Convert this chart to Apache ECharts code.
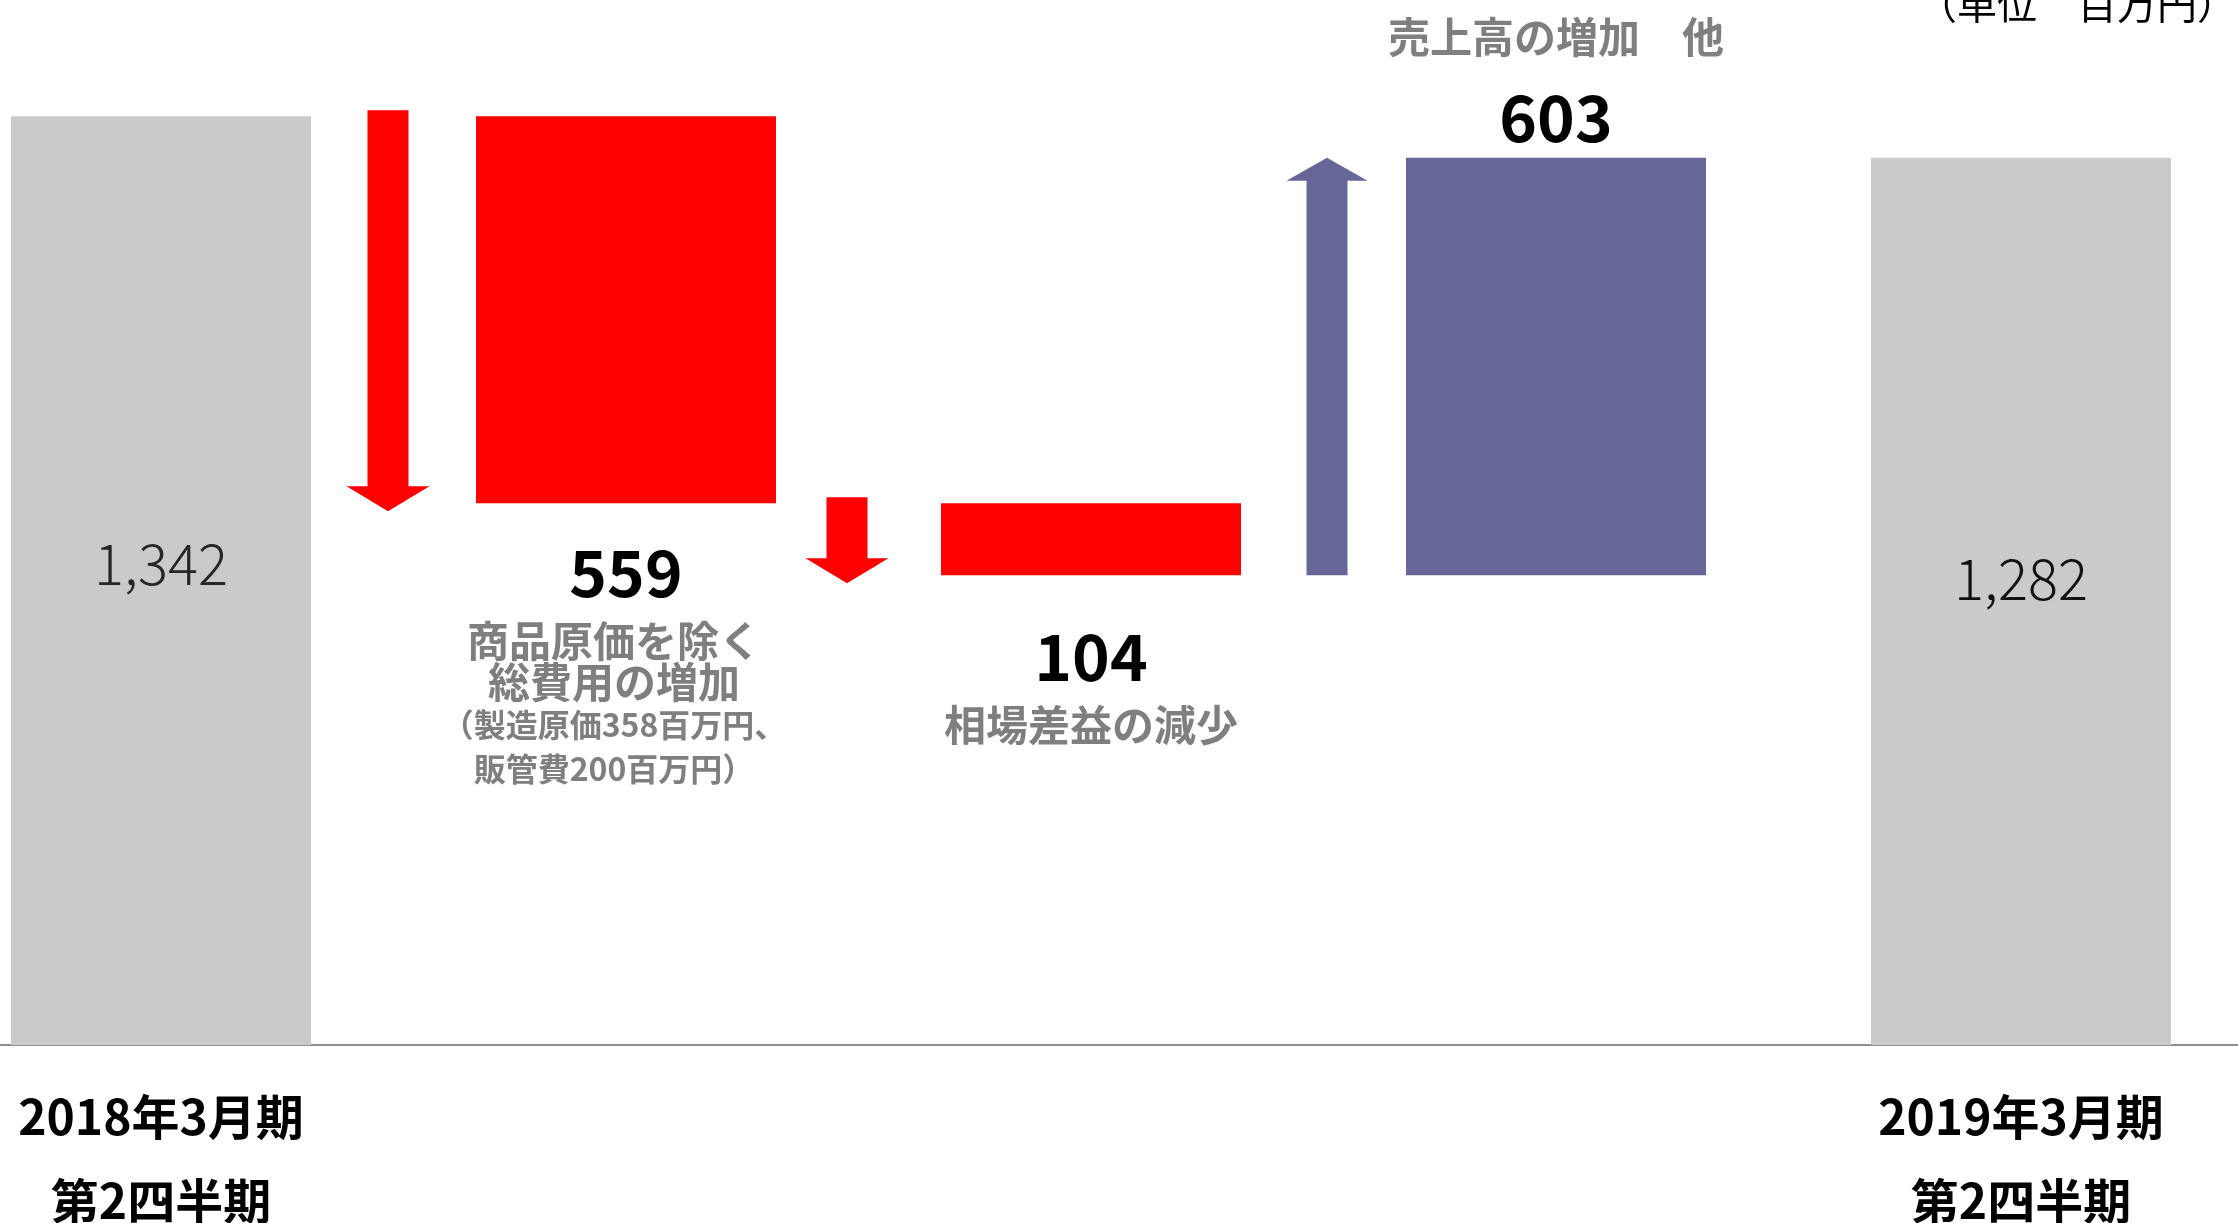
<!DOCTYPE html>
<html>
<head>
<meta charset="utf-8">
<script src="https://cdn.jsdelivr.net/npm/echarts@6/dist/echarts.min.js"></script>
<style>
  html, body { margin: 0; padding: 0; background: #ffffff; }
  #chart { width: 2238px; height: 1223px; }
</style>
</head>
<body>
<div id="chart"></div>
<script>
// 営業利益の増減要因（単位：百万円）
const periodLabels = ['2018年3月期\n第2四半期', '2019年3月期\n第2四半期'];
const startValue = 1342;
const endValue = 1282;
const changeValues = [-559, -104, 603];
const changeCaptions = ['商品原価を除く\n総費用の増加', '相場差益の減少', '売上高の増加　他'];
const changeNotes = ['（製造原価358百万円、\n販管費200百万円）', '', ''];
const unitLabel = '（単位　百万円）';

const FONT = '"Noto Sans CJK JP", "Noto Sans", sans-serif';
const COLOR_TOTAL = '#c9cac9';
const COLOR_DOWN = '#ff0000';
const COLOR_UP = '#666699';
const COLOR_CAPTION = '#7f7f7f';

// categories: opening total, each change, closing total
const categories = [periodLabels[0], ...changeCaptions, periodLabels[1]];
const lastIndex = categories.length - 1;

// waterfall pieces: invisible base + visible height
const baseValues = [0];
const barValues = [startValue];
const arrowData = [];
let running = startValue;
changeValues.forEach((d, k) => {
  baseValues.push(d < 0 ? running + d : running);
  barValues.push(Math.abs(d));
  arrowData.push([k + 1, running, running + d]);
  running += d;
});
baseValues.push(0);
barValues.push(endValue);

function barColor(i) {
  if (i === 0 || i === lastIndex) return COLOR_TOTAL;
  return changeValues[i - 1] < 0 ? COLOR_DOWN : COLOR_UP;
}

// per-bar label placement
function labelFor(i) {
  if (i === 0) return { position: 'inside', offset: [0, -17] };
  if (i === lastIndex) return { position: 'inside', offset: [0, -23] };
  const d = changeValues[i - 1];
  if (d > 0) return { position: 'top', distance: 0 };
  return { position: 'bottom', distance: i === 1 ? 22 : 34 };
}

function labelText(params) {
  const i = params.dataIndex;
  if (i === 0) return '{t0|' + startValue.toLocaleString('en-US') + '}';
  if (i === lastIndex) return '{t1|' + endValue.toLocaleString('en-US') + '}';
  const k = i - 1;
  const val = String(Math.abs(changeValues[k]));
  const caps = changeCaptions[k].split('\n');
  const notes = changeNotes[k] ? changeNotes[k].split('\n') : [];
  if (changeValues[k] > 0) {
    return caps.map(c => '{ct|' + c + '}').join('\n') + '\n{vt|' + val + '}';
  }
  const shift = notes.length ? 's' : '';
  const lines = ['{v|' + val + '}'];
  caps.forEach(c => lines.push('{c' + shift + '|' + c + '}'));
  notes.forEach((n, j) => lines.push('{n' + (j + 1) + '|' + n + '}'));
  return lines.join('\n');
}

const chart = echarts.init(document.getElementById('chart'), null, { renderer: 'canvas' });

const option = {
  backgroundColor: '#ffffff',
  animation: false,
  grid: {
    left: -71.5, right: -15.5, top: 7, bottom: 178,
    containLabel: false,
    outerBoundsMode: 'none'
  },
  xAxis: {
    type: 'category',
    data: categories,
    axisLine: { show: true, lineStyle: { color: '#8f8f8f', width: 2 } },
    axisTick: { show: false },
    splitLine: { show: false },
    axisLabel: {
      interval: 0,
      margin: 30,
      fontFamily: FONT,
      fontSize: 48,
      fontWeight: 'bold',
      color: '#000000',
      lineHeight: 84,
      formatter: (value, index) => (index === 0 || index === lastIndex) ? value : ''
    }
  },
  yAxis: {
    type: 'value',
    min: 0,
    max: 1500,
    show: false,
    splitLine: { show: false }
  },
  series: [
    {
      name: 'base',
      type: 'bar',
      stack: 'wf',
      barWidth: 300,
      silent: true,
      itemStyle: { color: 'transparent' },
      data: baseValues
    },
    {
      name: 'value',
      type: 'bar',
      stack: 'wf',
      barWidth: 300,
      data: barValues.map((v, i) => ({
        value: v,
        itemStyle: { color: barColor(i) },
        label: labelFor(i)
      })),
      label: {
        show: true,
        fontFamily: FONT,
        formatter: labelText,
        rich: {
          t0: { fontFamily: FONT, fontSize: 56, fontWeight: 300, color: '#262626', lineHeight: 60 },
          t1: { fontFamily: FONT, fontSize: 56, fontWeight: 300, color: '#111111', lineHeight: 60 },
          v:  { fontFamily: FONT, fontSize: 64, fontWeight: 'bold', color: '#000000', lineHeight: 95 },
          vt: { fontFamily: FONT, fontSize: 64, fontWeight: 'bold', color: '#000000', lineHeight: 80 },
          c:  { fontFamily: FONT, fontSize: 42, fontWeight: 'bold', color: COLOR_CAPTION, lineHeight: 41 },
          cs: { fontFamily: FONT, fontSize: 42, fontWeight: 'bold', color: COLOR_CAPTION, lineHeight: 41, padding: [0, 24, 0, 0] },
          ct: { fontFamily: FONT, fontSize: 42, fontWeight: 'bold', color: COLOR_CAPTION, lineHeight: 82 },
          n1: { fontFamily: FONT, fontSize: 32, fontWeight: 'bold', color: COLOR_CAPTION, lineHeight: 46, padding: [0, 24, 0, 0] },
          n2: { fontFamily: FONT, fontSize: 32, fontWeight: 'bold', color: COLOR_CAPTION, lineHeight: 42, padding: [0, 24, 0, 0] }
        }
      }
    },
    {
      name: 'arrows',
      type: 'custom',
      silent: true,
      data: arrowData,
      encode: { x: 0, y: [1, 2] },
      renderItem: (params, api) => {
        const shiftX = [-238, -244, -229];
        const idx = api.value(0);
        const from = api.value(1);
        const to = api.value(2);
        const p0 = api.coord([idx, from]);
        const p1 = api.coord([idx, to]);
        const x = p0[0] + shiftX[params.dataIndex];
        const down = to < from;
        const hs = 20.5, hh = 41.5, hl = 25;
        let pts;
        if (down) {
          const yTail = p0[1] - 6;
          const yTip = p1[1] + 8;
          pts = [[x - hs, yTail], [x + hs, yTail], [x + hs, yTip - hl], [x + hh, yTip - hl],
                 [x, yTip], [x - hh, yTip - hl], [x - hs, yTip - hl]];
        } else {
          const yTail = p0[1];
          const yTip = p1[1];
          const hu = 23;
          pts = [[x - hs, yTail], [x + hs, yTail], [x + hs, yTip + hu], [x + hh - 1, yTip + hu],
                 [x, yTip], [x - hh + 1, yTip + hu], [x - hs, yTip + hu]];
        }
        return {
          type: 'polygon',
          shape: { points: pts },
          style: { fill: down ? COLOR_DOWN : COLOR_UP }
        };
      }
    }
  ],
  graphic: [
    {
      type: 'text',
      x: 2237,
      y: 4,
      style: {
        text: unitLabel,
        fontFamily: FONT,
        fontSize: 40,
        fontWeight: 'normal',
        fill: '#000000',
        align: 'right',
        verticalAlign: 'middle'
      }
    }
  ]
};

chart.setOption(option);
</script>
</body>
</html>
